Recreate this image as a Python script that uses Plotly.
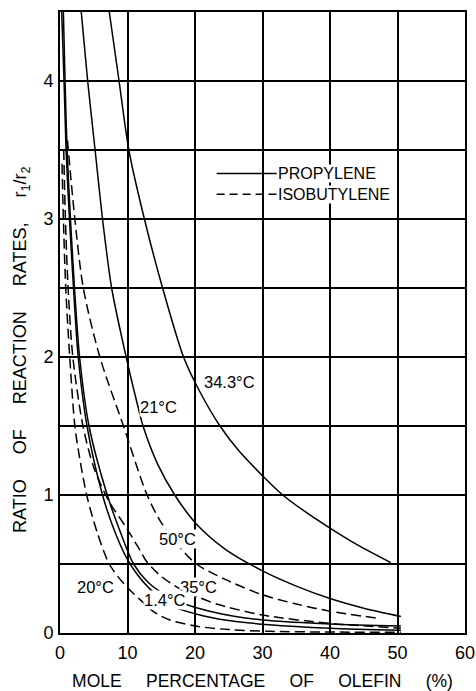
import plotly.graph_objects as go

NB = "\u00a0"

# ---- data ----
# Propylene (solid)
a_x = [7.3, 8.75, 10.2, 12.5, 15.2, 18.3, 20.7, 23.7, 26.5, 30, 33, 36, 40, 44, 49]
a_y = [4.5, 4.0, 3.5, 3.0, 2.5, 2.0, 1.75, 1.5, 1.32, 1.14, 1.0, 0.89, 0.76, 0.64, 0.51]

b_x = [3.15, 4.1, 5.2, 6.3, 7.65, 9.8, 11.5, 12.3, 14.5, 17.0, 20.2, 24.4, 30, 35, 40, 45, 50.5]
b_y = [4.5, 4.0, 3.5, 3.0, 2.5, 2.0, 1.65, 1.5, 1.22, 1.0, 0.79, 0.61, 0.45, 0.34, 0.25, 0.18, 0.12]

e_x = [0.25, 0.6, 0.9, 1.4, 2.0, 2.7, 4.0, 6.3, 8.0, 9.8, 11.5, 13.3, 16.3, 20, 25, 31, 40, 50.5]
e_y = [4.5, 4.0, 3.5, 3.0, 2.5, 2.0, 1.5, 1.0, 0.75, 0.55, 0.42, 0.32, 0.2, 0.14, 0.09, 0.06, 0.035, 0.02]

f_x = [0.5, 0.75, 1.05, 1.55, 2.15, 2.9, 4.3, 7.0, 8.8, 10.9, 13.0, 15.5, 18.5, 22, 26, 31, 40, 50.5]
f_y = [4.5, 4.0, 3.5, 3.0, 2.5, 2.0, 1.5, 1.0, 0.75, 0.5, 0.37, 0.28, 0.21, 0.16, 0.12, 0.09, 0.065, 0.05]

# Isobutylene (dashed)
c_x = [1.1, 2.2, 3.45, 5.9, 9.4, 12.9, 15.0, 17.6, 20.2, 24.4, 29.8, 35, 39.8, 47.3]
c_y = [3.57, 3.0, 2.5, 2.0, 1.5, 1.0, 0.8, 0.63, 0.50, 0.39, 0.28, 0.21, 0.16, 0.105]

d_x = [0.55, 0.8, 1.2, 1.9, 3.4, 5.0, 7.3, 9.6, 11.6, 12.8, 15.0, 17.8, 20.5, 23.2, 30, 40, 50.5]
d_y = [3.5, 3.0, 2.5, 2.0, 1.5, 1.2, 0.95, 0.78, 0.62, 0.52, 0.41, 0.32, 0.26, 0.21, 0.13, 0.07, 0.035]

g_x = [0.3, 0.5, 0.85, 1.44, 2.2, 2.8, 3.95, 5.5, 7.3, 9.4, 11.9, 14.0, 16.3, 20.7, 25, 31, 40, 50.5]
g_y = [3.4, 3.0, 2.5, 2.0, 1.5, 1.3, 1.0, 0.73, 0.5, 0.36, 0.24, 0.15, 0.094, 0.046, 0.025, 0.012, 0.007, 0.005]

curve_labels = ["34.3°C", "21°C", "50°C", "35°C", "1.4°C", "20°C"]
label_x = [25.1, 14.6, 17.4, 20.5, 15.6, 5.2]
label_y = [1.82, 1.64, 0.68, 0.335, 0.24, 0.33]

x_ticks = [0, 10, 20, 30, 40, 50, 60]
y_ticks = [0, 1, 2, 3, 4]

FONT = "Liberation Sans"

fig = go.Figure()
solid = [(a_x, a_y), (b_x, b_y), (e_x, e_y), (f_x, f_y)]
dashed = [(c_x, c_y), (d_x, d_y), (g_x, g_y)]
for xs, ys in solid:
    fig.add_trace(go.Scatter(x=xs, y=ys, mode="lines", showlegend=False, hoverinfo="skip",
                             line=dict(color="black", width=1.5, shape="spline", smoothing=0.8)))
for xs, ys in dashed:
    fig.add_trace(go.Scatter(x=xs, y=ys, mode="lines", showlegend=False, hoverinfo="skip",
                             line=dict(color="black", width=1.5, dash="10px,5px", shape="spline", smoothing=0.8)))

for t, lx, ly in zip(curve_labels, label_x, label_y):
    fig.add_annotation(x=lx, y=ly, text=t, showarrow=False, bgcolor="white", borderpad=0,
                       font=dict(family=FONT, size=16.5, color="black"))

# legend drawn as a keyed note inside the grid
leg_x0, leg_x1 = 23.2, 32.1
leg_y = [3.33, 3.18]
leg_txt = ["PROPYLENE", "ISOBUTYLENE"]
leg_dash = ["solid", "8px,5px"]
for yy, tt, dd in zip(leg_y, leg_txt, leg_dash):
    fig.add_shape(type="line", xref="x", yref="y", x0=leg_x0, x1=leg_x1, y0=yy, y1=yy,
                  line=dict(color="black", width=1.5, dash=dd))
    fig.add_annotation(x=leg_x1, y=yy, text=tt, xanchor="left", showarrow=False, bgcolor="white",
                       borderpad=0, font=dict(family=FONT, size=16, color="black"))

# y-axis title (placed as a rotated note so it sits where the reference has it)
gap = NB * 5
y_title = "RATIO" + gap + "OF" + gap + "REACTION" + gap + "RATES," + gap + "r<sub>1</sub>/r<sub>2</sub>"
fig.add_annotation(xref="paper", yref="paper", x=-0.095, y=0.455, xanchor="center", yanchor="middle",
                   text=y_title, textangle=-90, showarrow=False,
                   font=dict(family=FONT, size=18, color="black"))

xgap = NB * 5
fig.update_layout(
    width=476, height=691,
    margin=dict(l=60, r=11, t=12, b=58),
    paper_bgcolor="white", plot_bgcolor="white",
    font=dict(family=FONT, color="black"),
    xaxis=dict(range=[0, 60], tickvals=x_ticks, ticktext=[str(v) for v in x_ticks],
               automargin=False,
               showgrid=True, gridcolor="black", gridwidth=1.5,
               showline=True, linecolor="black", linewidth=2, mirror=True, zeroline=False,
               ticks="", ticklabelstandoff=2, tickfont=dict(size=18, family=FONT),
               title=dict(text=("MOLE" + xgap + "PERCENTAGE" + xgap + "OF" + xgap + "OLEFIN" + xgap + "(%)"),
                          font=dict(size=17.5, family=FONT), standoff=17)),
    yaxis=dict(range=[0, 4.5], tickvals=y_ticks, ticktext=[str(v) for v in y_ticks],
               automargin=False,
               showgrid=True, gridcolor="black", gridwidth=1.5,
               minor=dict(dtick=0.5, showgrid=True, gridcolor="black", gridwidth=1.5, ticks=""),
               showline=True, linecolor="black", linewidth=2, mirror=True, zeroline=False,
               ticks="", ticklabelstandoff=1, tickfont=dict(size=18, family=FONT)),
)

fig.write_html("out.html", config={"displayModeBar": False},
               post_script="document.body.style.margin='0';")
